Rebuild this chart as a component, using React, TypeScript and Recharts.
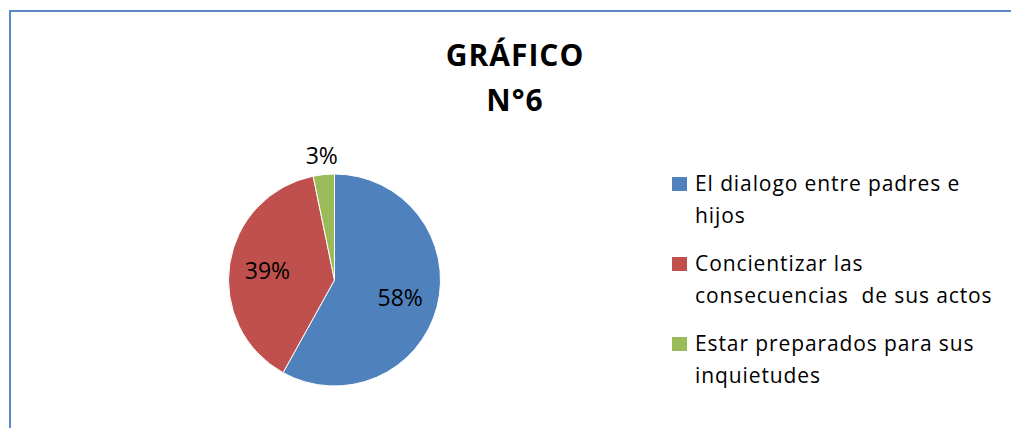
import { Cell, Legend, Pie, PieChart } from 'recharts';

const CATEGORIES = [
    'El dialogo entre padres e hijos',
    'Concientizar las consecuencias  de sus actos',
    'Estar preparados para sus inquietudes',
];
const COUNTS = [18, 12, 1];
const COLORS = ['#4F81BD', '#C0504D', '#9BBB59'];
const TITLE_LINES = ['GRÁFICO', 'N°6'];

const FONT = "'Open Sans', 'Noto Sans', sans-serif";
const FRAME_COLOR = '#5B89C5';
const RADIAN = Math.PI / 180;

const data = CATEGORIES.map((name, i) => ({ name, value: COUNTS[i] }));

type LabelProps = {
    cx: number;
    cy: number;
    midAngle: number;
    outerRadius: number;
    percent: number;
};

// small slices get their label outside the pie, big ones inside
const renderLabel = ({ cx, cy, midAngle, outerRadius, percent }: LabelProps) => {
    const r = percent < 0.05 ? outerRadius + 20 : outerRadius * 0.64;
    const x = cx + r * Math.cos(-midAngle * RADIAN);
    const y = cy + r * Math.sin(-midAngle * RADIAN);
    return (
        <text
            x={x}
            y={y}
            textAnchor='middle'
            dominantBaseline='central'
            fill='#000'
            style={{ fontFamily: FONT, fontSize: 23 }}
        >
            {`${Math.round(percent * 100)}%`}
        </text>
    );
};

// legend kept in data order (recharts 3 sorts its payload by name)
const LegendContent = () => (
    <div style={{ fontFamily: FONT, fontSize: 21, letterSpacing: 0.9, color: '#000' }}>
        {CATEGORIES.map((name, i) => (
            <div
                key={name}
                style={{
                    position: 'relative',
                    paddingLeft: 23,
                    lineHeight: '32px',
                    marginBottom: 16,
                    width: 315,
                    whiteSpace: 'pre-wrap',
                }}
            >
                <span
                    style={{
                        position: 'absolute',
                        left: 0,
                        top: 10,
                        width: 15,
                        height: 14,
                        background: COLORS[i],
                    }}
                />
                {name}
            </div>
        ))}
    </div>
);

export default function App() {
    return (
        <div
            style={{
                position: 'absolute',
                left: 0,
                top: 0,
                width: 1011,
                height: 428,
                overflow: 'hidden',
                background: '#fff',
            }}
        >
            {/* frame of the chart area: only its top and left edges are in view */}
            <div style={{ position: 'absolute', left: 9, top: 10, width: 1002, height: 2, background: FRAME_COLOR }} />
            <div style={{ position: 'absolute', left: 9, top: 10, width: 2, height: 418, background: FRAME_COLOR }} />
            <div
                style={{
                    position: 'absolute',
                    left: 415,
                    top: 32,
                    width: 200,
                    textAlign: 'center',
                    fontFamily: FONT,
                    fontWeight: 700,
                    fontSize: 30,
                    lineHeight: '45px',
                    letterSpacing: 1,
                    color: '#000',
                }}
            >
                {TITLE_LINES.map((line) => (
                    <div key={line}>{line}</div>
                ))}
            </div>
            <div style={{ position: 'absolute', left: 0, top: 0 }}>
                <PieChart width={960} height={428} margin={{ top: 0, right: 0, bottom: 0, left: 0 }}>
                    <Pie
                        data={data}
                        dataKey='value'
                        nameKey='name'
                        cx={334.5}
                        cy={280}
                        outerRadius={106}
                        startAngle={90}
                        endAngle={-270}
                        stroke='#fff'
                        strokeWidth={1}
                        label={renderLabel}
                        labelLine={false}
                        isAnimationActive={false}
                    >
                        {data.map((d, i) => (
                            <Cell key={d.name} fill={COLORS[i]} />
                        ))}
                    </Pie>
                    <Legend
                        content={<LegendContent />}
                        wrapperStyle={{ left: 672, top: 167, width: 339, bottom: 'auto' }}
                    />
                </PieChart>
            </div>
        </div>
    );
}
